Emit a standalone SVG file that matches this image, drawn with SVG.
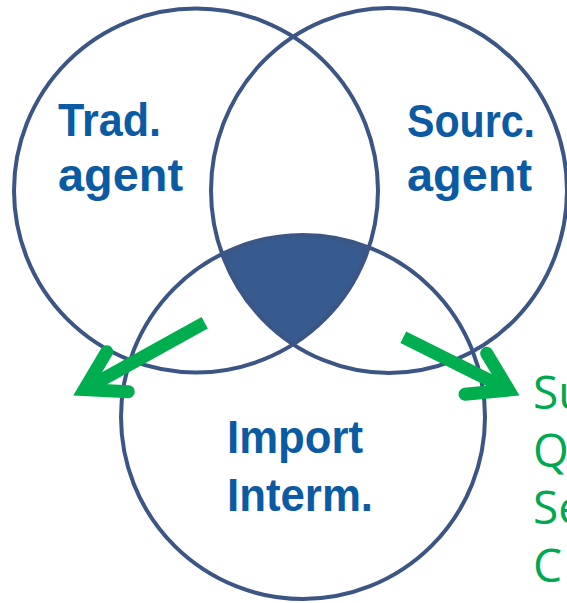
<svg xmlns="http://www.w3.org/2000/svg" width="567" height="603" viewBox="0 0 567 603">
  <style>
    .ring { fill: none; stroke: #3b5585; stroke-width: 4; }
    .label { font-family: "Liberation Sans", Arial, sans-serif; font-weight: 700; font-size: 46px; fill: #0a5ba3; }
    .side { font-family: "Open Sans", "Liberation Sans", sans-serif; font-weight: 400; font-size: 46px; fill: #00a94f; }
    .shaft { fill: none; stroke: #00ae4f; stroke-width: 13; stroke-linecap: butt; }
    .head { fill: none; stroke: #00ae4f; stroke-width: 13; stroke-linecap: round; stroke-linejoin: miter; stroke-miterlimit: 6; }
  </style>
  <defs>
    <clipPath id="clip-left">
      <circle cx="196" cy="190.5" r="182"/>
    </clipPath>
    <clipPath id="clip-right">
      <ellipse cx="389" cy="190.5" rx="178" ry="182.5"/>
    </clipPath>
  </defs>

  <rect width="567" height="603" fill="#ffffff"/>

  <!-- shared core: area inside all three circles -->
  <g id="core">
    <g clip-path="url(#clip-left)">
      <circle cx="303" cy="417" r="182" fill="#375b8f" clip-path="url(#clip-right)"/>
    </g>
  </g>

  <g id="trad-agent">
    <circle class="ring" cx="196" cy="190.5" r="182"/>
    <text class="label" x="58" y="136" textLength="103" lengthAdjust="spacingAndGlyphs">Trad.</text>
    <text class="label" x="58" y="191" textLength="125" lengthAdjust="spacingAndGlyphs">agent</text>
  </g>

  <g id="sourc-agent">
    <ellipse class="ring" cx="389" cy="190.5" rx="178" ry="182.5"/>
    <text class="label" x="407" y="136.5" textLength="128" lengthAdjust="spacingAndGlyphs">Sourc.</text>
    <text class="label" x="407" y="191" textLength="125" lengthAdjust="spacingAndGlyphs">agent</text>
  </g>

  <g id="import-interm">
    <circle class="ring" cx="303" cy="417" r="182"/>
    <text class="label" x="227" y="453" textLength="136" lengthAdjust="spacingAndGlyphs">Import</text>
    <text class="label" x="227" y="510.5" textLength="146" lengthAdjust="spacingAndGlyphs">Interm.</text>
  </g>

  <g id="connectors">
    <line class="shaft" x1="204.7" y1="322.7" x2="86" y2="388.5"/>
    <polyline class="head" points="106.7,351.7 84.3,389.5 128.3,391.7"/>
    <line class="shaft" x1="403.3" y1="337.3" x2="507" y2="389"/>
    <polyline class="head" points="486.7,353.3 508.7,390 465,394.3"/>
  </g>

  <g id="side-list">
    <text class="side" x="533" y="408.5">Su</text>
    <text class="side" x="533" y="466.5">Q</text>
    <text class="side" x="533" y="524">Se</text>
    <text class="side" x="533" y="581.5">C</text>
  </g>
</svg>
